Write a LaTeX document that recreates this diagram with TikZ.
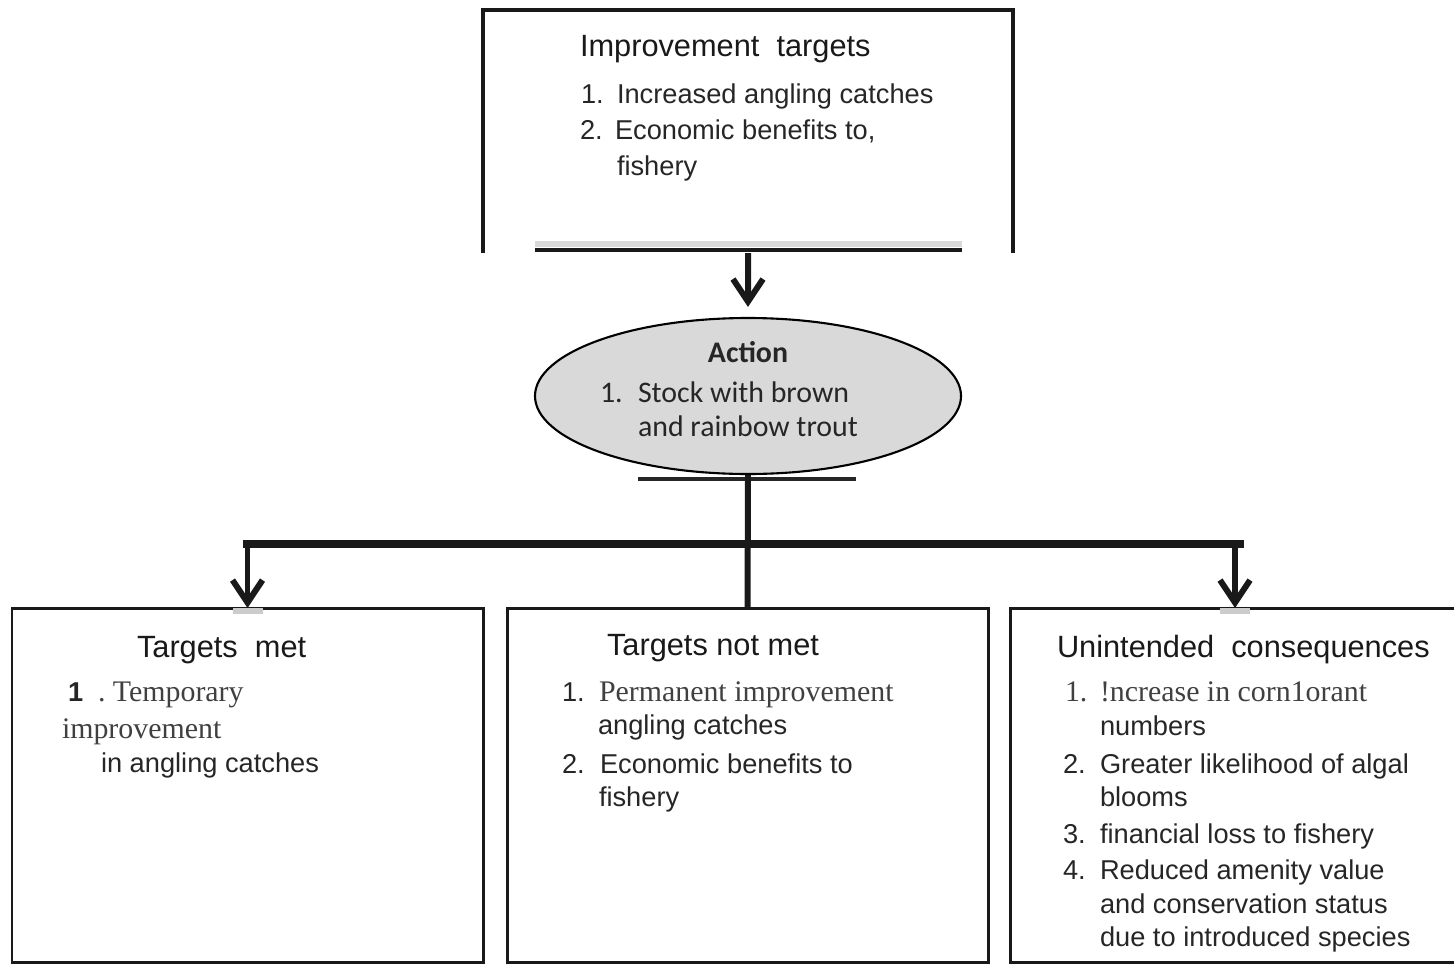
\documentclass[tikz,border=0pt]{standalone}
\usepackage{fontspec}
\setmainfont{Liberation Sans}
\newfontfamily\tnr{Liberation Serif}
\newfontfamily\calib{Carlito}
\usetikzlibrary{arrows.meta, shapes.geometric}

\newcommand{\sz}{\fontsize{15.5pt}{18pt}\selectfont}
\newcommand{\szb}{\fontsize{17pt}{20pt}\selectfont}
\newcommand{\szh}{\fontsize{17.5pt}{20pt}\selectfont}

\begin{document}
\begin{tikzpicture}[x=0.2mm, y=-0.2mm, >={Straight Barb[length=4.5mm, width=6mm]},
        txt/.style={anchor=base west, inner sep=0pt, outer sep=0pt, text=black!85, font=\sz},
        head/.style={txt, font=\szh, text=black!90},
        serif/.style={txt, font=\szb\tnr, text=black!75},
        oval/.style={txt, font=\szb\calib, text=black!85},
        panel/.style={draw=black!90, line width=1.7pt, outer sep=0pt, anchor=north west, minimum height=70.8mm},
        feed/.style={->, line width=3.4pt, black!90},
    ]
    \useasboundingbox (0,0) rectangle (1454,964);

    % improvement targets (open at the bottom)
    \node[outer sep=0pt, inner sep=0pt, anchor=north west, minimum width=106mm, minimum height=48.6mm] (targets) at (483,10) {};
    \draw[line width=2.2pt, black!90] (targets.south west) |- (targets.north east) -- (targets.south east);
    \fill[black!15] (535,241) rectangle (962,247);
    \draw[line width=2.4pt, black!90] (535,250) -- (962,250);
    \node[head] (tHead) at (580,57) {Improvement\ \ targets};
    \node[txt] (tn1) at (581,103) {1.};
    \node[txt] (t1) at (617,103) {Increased angling catches};
    \node[txt] (tn2) at (580,139) {2.};
    \node[txt] (t2) at (615,139) {Economic benefits to,};
    \node[txt] (t3) at (617,175) {fishery};

    % action
    \node[ellipse, draw, line width=1.2pt, fill=black!15, minimum width=85.2mm, minimum height=31.2mm] (action) at (748,396) {};
    \node[oval, anchor=base, font=\szb\calib\bfseries] (aHead) at (748,362) {Action};
    \node[oval] (an1) at (600,402) {1.};
    \node[oval] (a1) at (638,402) {Stock with brown};
    \node[oval] (a2) at (638,436) {and rainbow trout};
    \draw[line width=2.8pt, black!85] (638,479) -- (856,479);
    \draw[feed] (targets.south) -- ([yshift=2mm]action.north);

    % outcome panels
    \node[panel, minimum width=94.2mm] (met) at (12,608) {};
    \node[panel, minimum width=96.2mm] (notmet) at (507,608) {};
    \node[panel, minimum width=90mm] (unint) at (1010,608) {};

    \coordinate (split) at (747,544);
    \draw[line width=3.4pt, black!90] (action.south) -- (notmet.north);
    \draw[line width=4.5pt, black!90] (243,544) -- (1244,544);
    \foreach \b in {met, unint}
    {
        \fill[black!20] ([xshift=-3mm]\b.north) rectangle ([xshift=3mm, yshift=-1.2mm]\b.north);
        \draw[feed] (\b.north |- split) -- (\b.north);
    }

    % targets met
    \node[head] (mHead) at (137,657) {Targets\ \ met};
    \node[txt, font=\sz\bfseries] (mn1) at (68,701) {1};
    \node[serif] (m1) at (98,701) {.\ Temporary};
    \node[serif] (m2) at (62,738) {improvement};
    \node[txt] (m3) at (101,772) {in angling catches};

    % targets not met
    \node[head] (nHead) at (607,655) {Targets not met};
    \node[txt] (nn1) at (562,701) {1.};
    \node[serif] (n1) at (599,701) {Permanent improvement};
    \node[txt] (n2) at (598,734) {angling catches};
    \node[txt] (nn2) at (562,773) {2.};
    \node[txt] (n3) at (600,773) {Economic benefits to};
    \node[txt] (n4) at (599,806) {fishery};

    % unintended consequences
    \node[head] (uHead) at (1057,657) {Unintended\ \ consequences};
    \node[serif] (un1) at (1065,701) {1.};
    \node[serif] (u1) at (1100,701) {!ncrease in corn1orant};
    \foreach \y/\t [count=\i from 2] in {735/numbers, 773/Greater likelihood of algal, 806/blooms,
        843/financial loss to fishery, 879/Reduced amenity value, 913/and conservation status,
        946/due to introduced species}
        \node[txt] (u\i) at (1100,\y) {\t};
    \foreach \y/\n in {773/2, 843/3, 879/4}
        \node[txt] (un\n) at (1063,\y) {\n.};
\end{tikzpicture}
\end{document}
